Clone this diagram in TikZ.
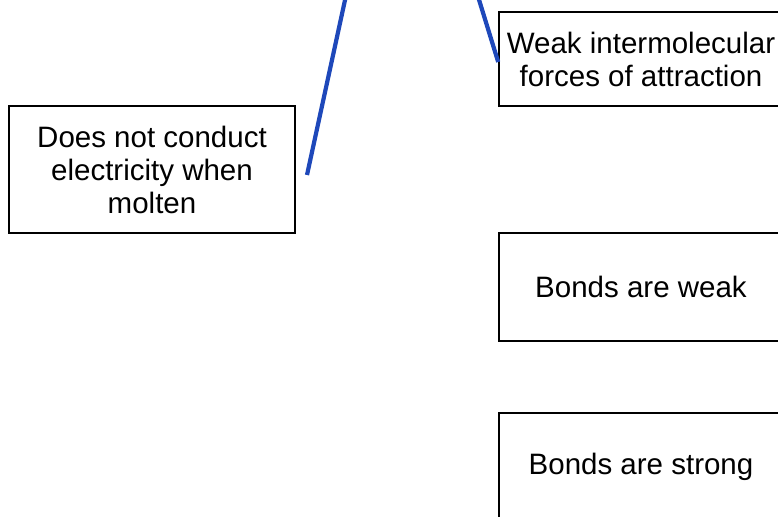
\documentclass[tikz,border=0pt]{standalone}
\usepackage{fontspec}
\setmainfont{Liberation Sans}
\definecolor{linkblue}{RGB}{30,72,186}
\begin{document}
\begin{tikzpicture}[x=1pt,y=-1pt,
  boxnode/.style={draw=black,line width=1.6pt,inner sep=0pt,align=center,
    font=\fontsize{29.5}{33}\selectfont},
  link/.style={draw=linkblue,line width=4.2pt}]
\useasboundingbox (0,0) rectangle (778,516);
\clip (0,0) rectangle (778,516);
\node[boxnode,minimum width=286pt,minimum height=127pt] (molten) at (152,169.5)
  {Does not conduct\\electricity when\\molten};
\node[boxnode,minimum width=284pt,minimum height=94pt] (weak) at (641,59)
  {Weak intermolecular\\forces of attraction};
\node[boxnode,minimum width=284pt,minimum height=108pt] (bweak) at (641,287)
  {Bonds are weak};
\node[boxnode,minimum width=284pt,minimum height=108pt] (bstrong) at (641,467)
  {Bonds are strong};
\coordinate (t1) at (347.2,-10);
\coordinate (e1) at (307,175);
\coordinate (t2) at (476,-10);
\draw[link] (t1) -- (e1);
\draw[link] (t2) -- (weak.west |- 0,62);
\end{tikzpicture}
\end{document}
